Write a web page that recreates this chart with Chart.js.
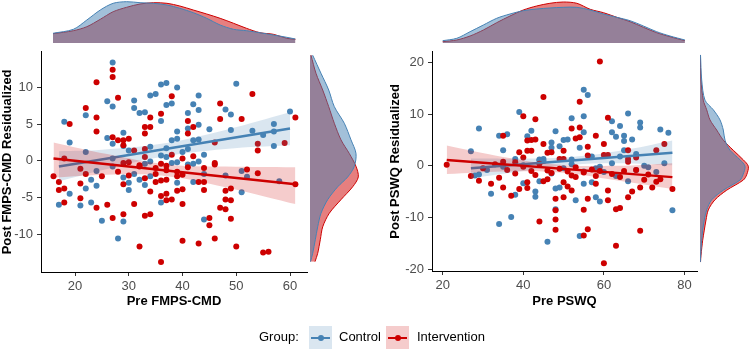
<!DOCTYPE html>
<html>
<head>
<meta charset="utf-8">
<script src="https://cdn.jsdelivr.net/npm/chart.js@4.4.1/dist/chart.umd.min.js"></script>
<style>
body { margin: 0; width: 750px; height: 362px; position: relative; background: #fff; overflow: hidden;
  font-family: "Liberation Sans", Arial, sans-serif; }
canvas { position: absolute; }
.lg { position: absolute; font-size: 13px; line-height: 16px; top: 329px; color: #000; }
.key { position: absolute; top: 326px; width: 23px; height: 23px; }
.key .ln { position: absolute; left: 2px; right: 2px; top: 10.5px; height: 2px; }
.key .dot { position: absolute; left: 8.5px; top: 8.5px; width: 6px; height: 6px; border-radius: 50%; }
</style>
</head>
<body>
<canvas id="fmpsTop" width="266" height="43" style="left:41px;top:0px"></canvas>
<canvas id="fmps" width="312" height="272" style="left:0px;top:40px"></canvas>
<canvas id="fmpsSide" width="60" height="227" style="left:310px;top:45px"></canvas>
<canvas id="pswqTop" width="265" height="43" style="left:432px;top:0px"></canvas>
<canvas id="pswq" width="322" height="272" style="left:380px;top:40px"></canvas>
<canvas id="pswqSide" width="50" height="226" style="left:700px;top:45px"></canvas>

<span class="lg" style="left:259px">Group:</span>
<div class="key" style="left:309px;background:rgba(70,130,180,0.2)"><div class="ln" style="background:#4682B4"></div><div class="dot" style="background:#4682B4"></div></div>
<span class="lg" style="left:339px">Control</span>
<div class="key" style="left:386px;background:rgba(205,0,0,0.2)"><div class="ln" style="background:#CD0000"></div><div class="dot" style="background:#CD0000"></div></div>
<span class="lg" style="left:417px">Intervention</span>

<script>
// tick labels
const fmpsTicksX = [20, 30, 40, 50, 60];
const fmpsTicksY = [-10, -5, 0, 5, 10];
const pswqTicksX = [20, 40, 60, 80];
const pswqTicksY = [-20, -10, 0, 10, 20];

// Pre FMPS-CMD vs Post FMPS-CMD residualized, [pre, post]
const fmpsControl = [[27,13.4],[18,5.3],[19,2.5],[22,6.2],[22,1.2],[26,8.1],[27,7.4],[26,3.1],[27,2.3],[29,3.8],
  [31,8.2],[31,7.2],[32,6.5],[33,6.6],[34,8.9],[35,9.1],[36,10.4],[37,10.6],[39,10.0],[37,7.6],[38,7.8],[36,5.4],
  [39,4.0],[38,2.8],[39,3.0],[34,1.9],[37,1.7],[41,6.5],[42,7.7],[43,8.9],[43,6.9],[41,4.4],[42,2.8],[43,4.9],
  [43,2.9],[41,1.6],[45,4.3],[48,7.0],[49,6.3],[50,10.5],[49,4.2],[53,4.1],[55,3.5],[57,5.0],[57,4.0],[57,2.0],
  [60,6.7],[27,0.3],[36,0.7],[37,0.5],[29,2.0],[30,1.4],[40,1.2],[44,0.8],
  [17,-6.0],[19,-4.5],[21,-6.1],[22,-3.8],[23,-2.6],[23,-5.7],[24,-3.4],[25,-8.2],[28,-10.6],[29,-2.3],[29,-8.3],
  [30,-3.0],[30,-4.0],[32,-2.6],[31,-1.8],[33,-3.3],[34,-2.1],[36,-5.7],[33,-0.4],[34,-0.1],[39,-3.0],[38,-0.3],
  [39,-0.2],[41,-0.5],[42,-0.4],[43,-0.1],[42,-2.9],[44,-8.0],[44,-1.8],[48,-2.0],[51,-1.4],[52,-2.2],[51,-4.3],
  [58,-2.8],[24,-1.4],[27,-0.8]];
const fmpsInterv = [[27,12.4],[27,11.4],[24,10.7],[28,8.6],[22,7.2],[24,5.9],[19,5.0],[24,4.0],[27,3.2],[28,2.8],
  [29,2.8],[30,3.0],[29,2.1],[38,8.8],[36,6.4],[34,5.9],[33,4.6],[34,4.6],[33,3.7],[31,1.4],[33,1.6],[33,0.5],
  [41,5.4],[42,4.6],[41,3.7],[47,7.8],[47,5.7],[51,5.7],[53,9.1],[46,2.5],[54,2.3],[54,1.4],[59,2.4],[61,5.9],
  [18,0.3],[38,0.8],[40,0.3],[42,0.6],[46,-0.3],
  [16,-2.1],[17,-2.9],[17,-4.0],[18,-3.8],[18,-5.7],[21,-1.1],[21,-3.1],[21,-5.1],[22,-1.8],[24,-6.4],[25,-2.1],
  [26,-6.0],[27,-7.8],[28,-1.5],[29,-3.2],[29,-7.3],[30,-2.0],[31,-5.9],[32,-11.7],[32,-0.6],[33,-2.4],[33,-7.5],
  [34,-7.3],[34,-4.2],[35,-2.9],[36,-4.8],[36,-2.7],[36,-13.8],[37,-4.5],[37,-5.4],[37,-2.6],[38,-5.3],[39,-4.1],
  [39,-2.1],[40,-3.9],[40,-1.9],[40,-5.9],[40,-10.9],[43,-11.3],[43,-2.9],[44,-4.0],[44,-2.9],[44,-1.0],[45,-7.8],
  [45,-8.8],[46,-10.6],[46,-0.5],[47,-6.4],[48,-4.1],[48,-5.3],[48,-6.6],[49,-3.8],[49,-5.4],[49,-7.9],[50,-11.7],
  [52,-1.2],[54,-1.7],[55,-12.5],[56,-12.4],[61,-3.2],[29,-0.3],[30,-0.2],[32,-0.8],[35,-1.0],[37,-0.7],[37,-1.3],
  [36,-0.4],[39,-1.5],[41,-0.9],[35,-1.8]];

// regression lines and confidence bands
const fmpsControlFit = [[17,-0.8],[60,4.4]];
const fmpsControlBandX = [17, 25, 36, 48, 60];
const fmpsControlUpper = [1.3, 1.5, 2.3, 4.2, 6.6];
const fmpsControlLower = [-2.8, -1.3, 0.5, 1.6, 2.1];
const fmpsIntervFit = [[16,0.3],[61,-3.2]];
const fmpsIntervBandX = [16, 26, 37, 48, 61];
const fmpsIntervUpper = [2.5, 0.9, -0.5, -0.8, -0.9];
const fmpsIntervLower = [-2.3, -1.9, -2.1, -3.6, -5.9];

// Pre PSWQ vs Post PSWQ residualized
const pswqControl = [[55,14.7],[56,13.7],[29,7.2],[39,10.4],[52,9.2],[55,9.6],[66,10.1],[62,8.6],[64,7.7],[69,8.4],
  [69,7.4],[62,6.5],[63,5.6],[65,5.8],[67,5.1],[65,4.8],[74,7.0],[76,6.4],[34,5.8],[36,6.1],[41,5.7],[42,6.8],
  [48,6.7],[55,6.5],[50,5.0],[51,5.1],[47,4.5],[47,3.5],[49,3.8],[54,3.5],[35,3.0],[27,2.8],[64,1.8],[68,2.3],
  [65,3.0],[57,1.8],[38,1.3],[44,1.2],[45,1.3],[52,1.2],
  [32,-5.4],[34,-11.3],[37,-9.9],[38,-5.6],[43,-5.0],[43,-6.0],[44,-3.0],[46,-14.7],[48,-4.4],[49,-4.2],[48,-8.4],
  [53,-6.7],[54,-13.6],[55,-3.5],[57,-3.2],[58,-6.1],[59,-6.9],[77,-8.6],[71,-0.3],[66,-3.0],[29,-1.7],[28,-1.9],
  [40,-3.4],[55,-1.1],[58,-0.5],[59,-0.2],[62,0.5],[44,1.0],[45,0.9],[31,-0.8],[35,-0.2],[40,0.1],[47,-1.5],
  [50,-0.5],[52,0.3],[60,-1.2],[63,-2.0],[68,-0.8],[70,0.0],[73,-1.2],[75,0.5]];
const pswqInterv = [[59,20.2],[45,13.3],[54,12.4],[40,9.6],[43,9.0],[61,9.3],[52,7.2],[54,7.4],[53,5.3],[54,5.5],
  [41,4.9],[42,5.0],[43,5.1],[41,2.9],[42,2.9],[45,4.2],[50,2.9],[56,3.7],[58,5.8],[60,4.2],[35,5.8],[39,2.6],
  [46,2.5],[47,2.6],[49,1.3],[50,1.3],[56,2.0],[60,2.1],[61,2.1],[66,3.0],[66,1.3],[68,1.6],[73,3.0],[75,4.2],
  [35,0.8],[38,0.7],[40,1.6],
  [21,0.2],[27,-2.0],[29,-2.9],[32,-3.5],[34,-2.3],[35,-4.2],[37,-5.8],[39,-4.5],[41,-3.2],[41,-4.3],[44,-10.8],
  [45,-3.0],[46,-2.6],[48,-6.4],[48,-8.6],[48,-10.4],[48,-12.4],[50,-6.1],[50,-3.2],[51,-4.0],[52,-4.8],[53,-2.2],
  [55,-8.5],[55,-13.5],[56,-6.4],[56,-12.3],[58,-3.5],[60,-18.9],[61,-4.8],[61,-6.7],[63,-8.4],[64,-8.2],[63,-15.5],
  [66,-6.1],[67,-5.0],[69,-4.2],[69,-12.6],[72,-4.2],[73,-3.1],[74,-2.6],[77,-4.5],[68,-0.8],[71,-1.7],[66,0.8],
  [30,-0.5],[33,0.3],[36,-0.8],[38,-1.5],[40,-0.2],[42,-1.0],[43,-1.8],[44,0.4],[46,-0.9],[47,-1.4],[49,-0.6],
  [51,-1.1],[52,-1.9],[53,-0.3],[55,-1.3],[57,-0.7],[58,-2.0],[59,-1.0],[62,-1.6],[64,-2.2],[65,-1.0],[70,-2.7]];

const pswqControlFit = [[27,-0.5],[77,2.5]];
const pswqControlBandX = [27, 40, 52, 64, 77];
const pswqControlUpper = [1.4, 1.4, 1.7, 2.9, 4.9];
const pswqControlLower = [-2.4, -1.0, 0.2, 0.5, 0.1];
const pswqIntervFit = [[21,1.1],[77,-2.2]];
const pswqIntervBandX = [21, 35, 49, 63, 77];
const pswqIntervUpper = [3.9, 1.7, 0.2, 0.0, 0.5];
const pswqIntervLower = [-1.6, -1.1, -1.3, -2.8, -4.5];

// marginal densities (heights in px)
const fmpsTopX = [15.9,19.7,22.2,24.7,27.1,29.6,32.1,34.6,37.1,39.5,42.0,44.5,47.0,49.5,51.9,54.4,56.9,59.4,61.0];
const fmpsTopControl = [9.7,13.7,23,33,39.7,41.3,40.3,39.7,38,34.7,30.3,24.7,18,13.7,12.3,10.3,8,5.7,4];
const fmpsTopInterv = [9.3,12.3,16.3,23.7,31.3,35.7,39,40.3,39.7,37,33,29,24.7,19.7,14.7,10.3,8.7,4.7,3.7];
const fmpsSideY = [-13.8,-12.7,-10.9,-9.2,-7.4,-5.6,-3.9,-2.6,-1.2,0.5,2.3,4.5,6.7,8.9,11.1,13.5];
const fmpsSideControl = [0.5,2.7,5.3,7.7,11,17.7,27.7,37.7,44.3,46,41,34.3,24.3,18.7,11,2.7];
const fmpsSideInterv = [5,7.7,10.3,12.7,19.3,31,42.7,48.3,46,39.3,31,24.3,18.7,12.7,6,1];

const pswqTopX = [20,23.5,26.8,30.1,33.4,36.7,40,43.3,46.6,49.9,53.3,56.6,59.9,63.2,66.5,69.8,73.1,76.4,80.1];
const pswqTopControl = [2.3,4.7,11.3,18,24.7,29,32.3,34,35,35.7,35.7,33,29,25.7,22.3,17,11.3,7,3];
const pswqTopInterv = [1.3,3,7,13,20.3,27,33,37,39.7,41,39.7,33.7,30.3,25.7,21.3,15.7,10.3,6.3,2.3];
const pswqSideY = [-18.7,-17.4,-14.6,-12.7,-10.8,-8.9,-7.0,-5.2,-3.3,-2.3,-0.7,0.5,2.3,4.2,6.1,8.0,9.9,11.7,15.5,20.2];
const pswqSideControl = [0.3,0.7,1.7,2.7,4.3,6.7,11.7,23.3,40,43,45,40,30,25,23.3,20,13.3,5,1.7,0.5];
const pswqSideInterv = [0.5,1,2.7,4.3,6,8.3,15,26.7,43.3,46.7,48.3,43.3,33.3,23.3,16.7,10,6.7,3.3,1,0.3];

const blue = '#4682B4', red = '#CD0000';
const blueBand = 'rgba(70,130,180,0.2)', redBand = 'rgba(205,0,0,0.2)';
const blueFill = 'rgba(70,130,180,0.5)', redFill = 'rgba(205,0,0,0.5)';
const font = '"Liberation Sans", Arial, sans-serif';
Chart.defaults.font.family = font;

function pts(arr) { return arr.map(p => ({x: p[0], y: p[1]})); }
function zip(xs, ys) { return xs.map((x, i) => ({x: x, y: ys[i]})); }

function fitLine(data, color, order) {
  return {type: 'line', data: pts(data), borderColor: color, borderWidth: 2.5, pointRadius: 0, fill: false, order: order};
}
function bandLine(xs, ys, fillColor, fill, order) {
  return {type: 'line', data: zip(xs, ys), borderColor: 'rgba(0,0,0,0)', borderWidth: 0, pointRadius: 0,
    tension: 0.4, backgroundColor: fillColor, fill: fill, order: order};
}

function scatterPanel(id, p) {
  new Chart(document.getElementById(id), {
    type: 'scatter',
    data: {
      datasets: [
        fitLine(p.redFit, red, 0),
        bandLine(p.redBandX, p.redUpper, redBand, '+1', 1),
        bandLine(p.redBandX, p.redLower, redBand, false, 2),
        fitLine(p.blueFit, blue, 3),
        bandLine(p.blueBandX, p.blueUpper, blueBand, '+1', 4),
        bandLine(p.blueBandX, p.blueLower, blueBand, false, 5),
        {data: pts(p.red), backgroundColor: red, borderWidth: 0, pointRadius: 3, order: 6},
        {data: pts(p.blue), backgroundColor: blue, borderWidth: 0, pointRadius: 3, order: 7}
      ]
    },
    options: {
      responsive: false,
      animation: false,
      devicePixelRatio: 1,
      layout: {padding: {top: 5, right: 5, left: 0, bottom: 0}},
      plugins: {legend: {display: false}, tooltip: {enabled: false}},
      scales: {
        x: {
          type: 'linear', min: p.xMin, max: p.xMax,
          afterFit: s => { s.height = p.xHeight; },
          afterBuildTicks: s => { s.ticks = p.xTicks.map(v => ({value: v})); },
          border: {display: true, color: '#000', width: 1},
          grid: {display: true, drawOnChartArea: false, drawTicks: true, tickLength: 4, color: '#333'},
          ticks: {color: '#4D4D4D', font: {size: 13}, padding: 3, maxRotation: 0},
          title: {display: true, text: p.xTitle, color: '#000', font: {size: 13, weight: 'bold'},
            padding: {top: 0, bottom: p.xTitlePad}}
        },
        y: {
          type: 'linear', min: p.yMin, max: p.yMax,
          afterFit: s => { s.width = p.yWidth; },
          afterBuildTicks: s => { s.ticks = p.yTicks.map(v => ({value: v})); },
          border: {display: true, color: '#000', width: 1},
          grid: {display: true, drawOnChartArea: false, drawTicks: true, tickLength: 4, color: '#333'},
          ticks: {color: '#4D4D4D', font: {size: 13}, padding: 4},
          title: {display: true, text: p.yTitle, color: '#000', font: {size: 13, weight: 'bold'},
            padding: {top: p.yTitlePad, bottom: 0}}
        }
      }
    }
  });
}

function densityPanel(id, vertical, xr, yr, controlData, intervData) {
  new Chart(document.getElementById(id), {
    type: 'line',
    data: {
      datasets: [
        {data: controlData, borderColor: blue, backgroundColor: blueFill, borderWidth: 1, pointRadius: 0, tension: 0.3, fill: 'origin'},
        {data: intervData, borderColor: red, backgroundColor: redFill, borderWidth: 1, pointRadius: 0, tension: 0.3, fill: 'origin'}
      ]
    },
    options: {
      indexAxis: vertical ? 'y' : 'x',
      responsive: false,
      animation: false,
      devicePixelRatio: 1,
      layout: {padding: 0},
      plugins: {legend: {display: false}, tooltip: {enabled: false}},
      scales: {
        x: {type: 'linear', display: false, min: xr[0], max: xr[1]},
        y: {type: 'linear', display: false, min: yr[0], max: yr[1]}
      }
    }
  });
}

const fmpsX = [13.67, 63.16], fmpsY = [-15.17, 14.85];
const pswqX = [17.35, 83.1], pswqY = [-20.38, 22.07];

scatterPanel('fmps', {
  red: fmpsInterv, blue: fmpsControl,
  redFit: fmpsIntervFit, redBandX: fmpsIntervBandX, redUpper: fmpsIntervUpper, redLower: fmpsIntervLower,
  blueFit: fmpsControlFit, blueBandX: fmpsControlBandX, blueUpper: fmpsControlUpper, blueLower: fmpsControlLower,
  xMin: fmpsX[0], xMax: fmpsX[1], yMin: fmpsY[0], yMax: fmpsY[1],
  xTicks: fmpsTicksX, yTicks: fmpsTicksY, xHeight: 40, yWidth: 41, xTitlePad: 3, yTitlePad: 0,
  xTitle: 'Pre FMPS-CMD', yTitle: 'Post FMPS-CMD Residualized'
});
scatterPanel('pswq', {
  red: pswqInterv, blue: pswqControl,
  redFit: pswqIntervFit, redBandX: pswqIntervBandX, redUpper: pswqIntervUpper, redLower: pswqIntervLower,
  blueFit: pswqControlFit, blueBandX: pswqControlBandX, blueUpper: pswqControlUpper, blueLower: pswqControlLower,
  xMin: pswqX[0], xMax: pswqX[1], yMin: pswqY[0], yMax: pswqY[1],
  xTicks: pswqTicksX, yTicks: pswqTicksY, xHeight: 41, yWidth: 52, xTitlePad: 2.5, yTitlePad: 8,
  xTitle: 'Pre PSWQ', yTitle: 'Post PSWQ Residualized'
});

densityPanel('fmpsTop', false, fmpsX, [0, 43], zip(fmpsTopX, fmpsTopControl), zip(fmpsTopX, fmpsTopInterv));
densityPanel('fmpsSide', true, [0, 60], fmpsY,
  fmpsSideY.map((y, i) => ({x: fmpsSideControl[i], y: y})), fmpsSideY.map((y, i) => ({x: fmpsSideInterv[i], y: y})));
densityPanel('pswqTop', false, pswqX, [0, 43], zip(pswqTopX, pswqTopControl), zip(pswqTopX, pswqTopInterv));
densityPanel('pswqSide', true, [0, 50], pswqY,
  pswqSideY.map((y, i) => ({x: pswqSideControl[i], y: y})), pswqSideY.map((y, i) => ({x: pswqSideInterv[i], y: y})));
</script>
</body>
</html>
